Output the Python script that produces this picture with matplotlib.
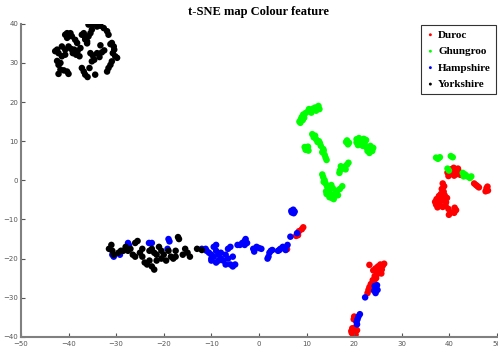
import matplotlib
matplotlib.use('Agg')
import matplotlib.pyplot as plt
import numpy as np

# t-SNE coordinates, one list per breed
duroc = [
    # right cluster, top row
    (39.6, 2.0), (40.0, 1.5), (40.3, 2.8), (40.6, 2.0), (41.0, 1.2), (41.3, 2.5),
    (41.6, 1.6), (42.0, 2.2), (42.3, 1.4), (40.9, 3.2), (41.8, 3.0), (39.8, 1.1),
    (45.2, -0.8), (45.6, -1.2), (46.2, -1.8), (45.9, -1.5),
    (47.8, -2.0), (48.1, -2.6), (47.6, -2.8), (48.0, -1.6),
    # right cluster, lower clump
    (38.6, -0.8), (38.9, -1.5), (38.4, -2.2), (38.8, -2.9), (38.2, -3.5), (37.8, -4.0),
    (38.5, -4.2), (39.0, -3.8), (37.3, -4.8), (37.0, -5.5), (37.6, -5.8), (38.2, -5.3),
    (38.8, -5.0), (39.3, -5.6), (38.0, -6.4), (38.6, -6.8), (39.2, -6.5), (37.5, -6.9),
    (39.8, -7.3), (40.3, -8.2), (39.9, -8.8), (41.1, -7.0), (41.4, -7.6), (41.0, -8.3),
    (39.5, -4.5), (37.2, -6.2),
    # lower diagonal
    (23.2, -21.6), (24.0, -23.0), (24.5, -22.5), (25.0, -22.0), (25.5, -21.5), (26.0, -21.8),
    (26.3, -21.3), (25.3, -23.0), (24.8, -24.0), (25.7, -23.8), (24.3, -24.5), (23.9, -25.5),
    (24.2, -26.0), (25.8, -22.8), (24.6, -25.0),
    (23.5, -26.5), (23.2, -27.3), (23.0, -28.0), (22.8, -28.8), (23.6, -27.8),
    (20.0, -34.8), (19.9, -35.5),
    (19.6, -37.8), (20.2, -37.6), (19.4, -38.5), (20.0, -38.6), (20.6, -38.3),
    (19.8, -39.3), (20.3, -39.4), (19.5, -39.0),
    # mixed in with Hampshire
    (5.9, -17.6), (7.8, -14.2), (8.4, -13.0), (9.0, -12.5), (9.3, -12.0), (8.2, -14.0),
]

ghungroo = [
    (8.5, 15.0), (8.8, 15.6), (9.0, 16.2), (8.7, 14.7), (9.3, 16.8), (9.8, 17.2),
    (10.3, 17.6), (10.8, 17.9), (11.3, 18.3), (11.8, 18.6), (12.3, 18.6), (12.7, 18.2),
    (12.0, 17.8), (10.5, 18.2), (9.5, 16.0), (11.0, 17.3), (12.5, 19.0), (9.2, 15.4),
    (9.6, 8.5), (10.0, 8.0), (10.3, 8.6), (9.8, 7.8), (10.4, 7.6),
    (11.2, 11.8), (11.5, 11.0), (12.0, 10.5), (12.3, 9.8), (12.8, 9.5), (13.0, 8.8),
    (13.5, 8.0), (13.3, 7.2), (13.8, 6.5), (14.0, 5.8), (14.2, 5.2), (13.6, 7.6),
    (12.6, 10.0), (11.8, 11.4),
    (18.3, 9.8), (18.7, 9.2), (18.5, 10.2), (18.9, 9.6),
    (20.5, 10.5), (21.0, 10.8), (21.5, 10.2), (22.0, 10.6), (22.5, 10.3), (21.2, 9.5),
    (20.8, 9.0), (21.8, 8.8), (22.5, 8.5), (23.0, 8.2), (23.5, 8.0), (23.8, 7.5),
    (23.2, 7.0), (22.8, 7.5), (24.0, 8.3), (23.4, 8.8), (22.2, 9.5), (20.5, 9.7),
    (17.0, 2.5), (17.5, 3.0), (18.0, 3.5), (18.5, 4.0), (18.8, 4.5), (17.2, 3.6),
    (16.9, 1.9), (18.2, 2.8),
    (13.3, 1.5), (13.5, 0.8), (13.8, 0.0), (14.0, -0.8), (14.3, -1.5), (14.5, -2.3),
    (14.8, -3.0), (15.0, -3.8), (15.3, -4.5), (15.7, -4.8), (16.0, -4.0), (16.2, -3.2),
    (16.5, -2.6), (17.0, -2.2), (17.5, -1.5), (15.5, -2.0), (14.8, -4.3), (14.2, -3.5),
    (16.6, -3.8), (13.6, -0.4), (14.1, -2.8), (15.2, -1.2), (15.9, -3.5),
    (37.2, 5.8), (37.6, 5.5), (38.0, 5.9), (40.3, 6.2), (40.7, 5.9), (39.6, 3.0),
    (39.9, 2.5), (42.8, 1.9), (43.3, 1.5), (43.8, 1.0), (44.3, 0.6), (44.6, 1.0), (43.0, 1.0),
]

hampshire = [
    (-30.5, -19.5), (-30.8, -19.0), (-29.2, -19.0), (-27.5, -16.0), (-27.3, -16.6),
    (-22.5, -16.0), (-23.1, -16.0), (-19.0, -15.0), (-18.8, -15.6), (-19.2, -17.5),
    (-11.2, -17.5),
    (-12.0, -17.5), (-11.0, -18.0), (-10.5, -18.5), (-10.0, -19.0), (-10.0, -20.0),
    (-9.5, -17.0), (-9.0, -16.5), (-9.0, -18.0), (-9.5, -19.5), (-10.0, -20.5),
    (-8.5, -19.0), (-8.0, -20.0), (-8.0, -18.5), (-7.5, -20.5), (-7.0, -21.5),
    (-6.5, -20.0), (-6.5, -17.5), (-6.0, -17.0), (-6.0, -21.5), (-5.5, -19.5),
    (-5.0, -21.5), (-5.5, -22.0), (-4.5, -16.5), (-4.0, -16.5), (-3.5, -16.0),
    (-3.0, -16.5), (-3.0, -15.5), (-2.8, -15.0), (-2.5, -16.0), (-8.5, -20.5),
    (-9.0, -21.0), (-7.0, -19.0),
    (-1.2, -17.5), (-0.5, -17.0), (0.0, -17.3), (0.5, -17.5), (-1.0, -18.2),
    (2.0, -19.5), (2.2, -18.5), (2.5, -18.0), (2.8, -17.8), (1.8, -20.0),
    (4.0, -18.0), (4.5, -17.5), (5.0, -17.0), (5.5, -17.3), (6.0, -16.5), (5.6, -17.8),
    (4.3, -17.8),
    (6.8, -7.8), (7.2, -7.5), (7.5, -8.0), (6.9, -8.2), (7.3, -8.4),
    (6.6, -14.4), (8.0, -13.5),
    (24.3, -27.0), (24.8, -26.8), (24.6, -27.6), (24.2, -28.2), (24.9, -28.0), (24.5, -28.8),
    (22.3, -29.9),
    (21.2, -34.2), (20.9, -34.8), (20.7, -35.5), (20.5, -36.2), (20.6, -36.8),
]

yorkshire = [
    # top-left cluster
    (-40.7, 37.2), (-40.3, 37.6), (-39.6, 37.6), (-39.3, 36.8), (-40.3, 36.4),
    (-37.2, 37.2), (-36.8, 37.6), (-36.5, 36.4), (-36.1, 35.5), (-35.8, 36.8),
    (-35.4, 37.6), (-35.1, 38.5),
    (-35.8, 39.8), (-35.1, 39.8), (-34.0, 39.3), (-33.3, 39.5), (-32.6, 38.9),
    (-31.9, 38.1), (-31.6, 37.2),
    (-30.9, 35.1), (-30.5, 34.2), (-30.4, 33.4), (-30.7, 32.5), (-30.2, 31.7), (-29.8, 31.3),
    (-31.2, 29.5), (-31.6, 28.7), (-31.9, 27.8),
    (-37.2, 28.7), (-36.8, 27.8), (-36.5, 27.0), (-36.0, 26.4), (-35.6, 28.7), (-34.4, 27.0),
    (-42.1, 29.5), (-41.7, 28.3), (-42.1, 27.2), (-41.0, 28.1), (-40.3, 27.8), (-40.0, 27.2),
    (-42.4, 33.4), (-42.1, 32.5), (-41.4, 34.2), (-40.7, 33.4), (-40.0, 34.2), (-39.5, 33.6),
    (-38.8, 33.4), (-38.1, 33.0), (-37.5, 33.8), (-37.7, 31.7), (-38.4, 32.1), (-39.1, 32.5),
    (-41.4, 31.7), (-40.7, 32.1),
    (-35.4, 32.5), (-34.9, 31.9), (-34.6, 30.8), (-34.0, 32.5), (-33.5, 31.5), (-33.0, 32.7),
    (-32.5, 33.2), (-35.1, 30.4),
    (-38.2, 35.1), (-38.6, 35.9), (-36.5, 36.0), (-36.1, 35.0),
    (-42.8, 33.0), (-42.4, 30.5), (-41.7, 30.0), (-33.3, 34.5), (-31.2, 34.8), (-30.9, 30.4),
    # bottom strip
    (-31.0, -16.5), (-30.8, -18.0), (-31.5, -17.5), (-30.5, -19.0), (-29.5, -18.5),
    (-28.5, -18.0), (-27.5, -18.0), (-27.0, -17.5), (-26.5, -19.0), (-26.0, -16.0),
    (-25.5, -15.5), (-25.0, -18.5), (-24.5, -19.5), (-24.0, -21.0), (-23.5, -21.5),
    (-23.0, -20.5), (-22.5, -22.0), (-22.0, -22.8), (-23.0, -18.0), (-22.5, -17.5),
    (-22.0, -18.5), (-21.5, -19.0), (-21.0, -17.0), (-20.5, -18.0), (-20.5, -20.0),
    (-20.0, -19.0), (-19.5, -20.5), (-19.0, -18.0), (-18.5, -19.5), (-18.0, -20.0),
    (-17.5, -18.0), (-17.0, -14.5), (-16.8, -15.0), (-17.5, -19.5), (-16.0, -19.0),
    (-15.5, -17.5), (-15.0, -18.5), (-14.5, -19.5), (-13.0, -17.5), (-12.0, -17.8),
    (-29.0, -18.0), (-28.0, -17.0), (-21.5, -20.5), (-24.5, -17.5), (-26.0, -19.5),
]

breeds = ['Duroc', 'Ghungroo', 'Hampshire', 'Yorkshire']
colours = ['#ff0000', '#00ff00', '#0000ff', '#000000']
x_ticks = [-50, -40, -30, -20, -10, 0, 10, 20, 30, 40, 50]
y_ticks = [-40, -30, -20, -10, 0, 10, 20, 30, 40]


def main():
    fig = plt.figure(figsize=(4.98, 3.55), dpi=100)
    ax = fig.add_axes([0.042, 0.051, 0.956, 0.882])

    for pts, name, col in zip([duroc, ghungroo, hampshire, yorkshire], breeds, colours):
        arr = np.array(pts)
        ax.scatter(arr[:, 0], arr[:, 1], s=22, color=col, edgecolors='none', label=name)

    ax.set_xlim(-50, 50)
    ax.set_ylim(-40, 40)
    ax.set_xticks(x_ticks)
    ax.set_yticks(y_ticks)
    ax.tick_params(direction='in', length=3, width=0.8, color='#555555',
                   labelsize=5, labelcolor='#555555')
    ax.tick_params(axis='x', pad=3)
    ax.tick_params(axis='y', pad=2)
    for side in ['top', 'right']:
        ax.spines[side].set_visible(False)
    for side in ['left', 'bottom']:
        ax.spines[side].set_color('#808080')
        ax.spines[side].set_linewidth(1.5)

    ax.set_title('t-SNE map Colour feature', fontsize=9, fontweight='bold',
                 family='Liberation Serif', pad=6)

    leg = ax.legend(loc='upper right', fancybox=False, edgecolor='black', markerscale=0.45,
                    prop={'family': 'Liberation Serif', 'weight': 'bold', 'size': 8},
                    borderaxespad=0.1, handletextpad=0.3, labelspacing=0.6,
                    borderpad=0.45, handlelength=0.8)
    leg.get_frame().set_linewidth(0.8)

    fig.savefig('out.png', dpi=100)
    plt.close(fig)


if __name__ == '__main__':
    main()
